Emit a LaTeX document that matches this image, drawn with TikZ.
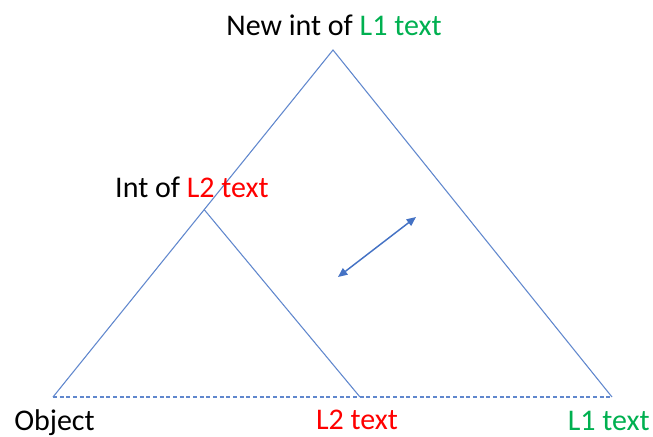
\documentclass[tikz,border=0pt]{standalone}
\usepackage{fontspec}
\setmainfont{Carlito}
\usetikzlibrary{calc,arrows.meta}
\definecolor{offblue}{HTML}{4472C4}
\definecolor{offgreen}{HTML}{00B050}
\definecolor{offred}{HTML}{FF0000}
\begin{document}
\begin{tikzpicture}[x=0.75pt,y=-0.75pt,
  edge/.style={draw=offblue!85, line width=0.8pt},
  baseedge/.style={edge, dashed, dash pattern=on 3pt off 2pt},
  lbl/.style={font=\fontsize{22.5}{26}\selectfont, inner sep=0pt, anchor=base},
  dbl/.style={draw=offblue, line width=1.1pt, {Triangle[length=7pt,width=6pt]}-{Triangle[length=7pt,width=6pt]}}]
\useasboundingbox (0,0) rectangle (653,436);
\coordinate (O) at (53,397);
\coordinate (T) at (333,50);
\coordinate (R) at (612,397);
\coordinate (M) at ($(O)!0.54!(T)$);
\coordinate (B) at (360,397);
\coordinate (a1) at (338,277);
\coordinate (a2) at (416,217);
\draw[edge] (O) -- (T) -- (R);
\draw[baseedge] (O) -- (R);
\draw[edge] (M) -- (B);
\draw[dbl] (a1) -- (a2);
\node[lbl] (t1) at (334,35) {New int of \textcolor{offgreen}{L1 text}};
\node[lbl] (t2) at (192,197) {Int of \textcolor{offred}{L2 text}};
\node[lbl, anchor=base west] (t3) at (14,430) {Object};
\node[lbl] (t4) at (357,429) {\textcolor{offred}{L2 text}};
\node[lbl, anchor=base east] (t5) at (650,430) {\textcolor{offgreen}{L1 text}};
\end{tikzpicture}
\end{document}
